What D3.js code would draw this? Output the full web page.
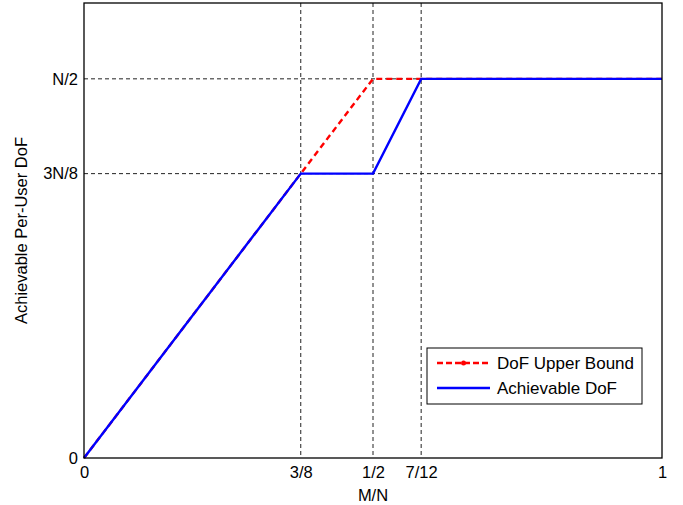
<!DOCTYPE html>
<html><head><meta charset="utf-8">
<script src="https://cdn.jsdelivr.net/npm/d3@7"></script>
<style>body{margin:0;background:#fff}svg{display:block}text{font-family:"Liberation Sans",Arial,sans-serif}</style>
</head><body><svg id="c" width="683" height="505"></svg>
<script>
const xTickValues=[0,3/8,1/2,7/12,1];
const xTickLabels=["0","3/8","1/2","7/12","1"];
const yTickValues=[0,3/8,1/2];
const yTickLabels=["0","3N/8","N/2"];
const upperX=[0,3/8,1/2,1];
const upperY=[0,3/8,1/2,1/2];
const achX=[0,3/8,1/2,7/12,1];
const achY=[0,3/8,3/8,1/2,1/2];
const seriesNames=["DoF Upper Bound","Achievable DoF"];

const svg=d3.select("#c");
const L=84,R=662,T=3,B=458;
const x=d3.scaleLinear().domain([0,1]).range([L,R]);
const y=d3.scaleLinear().domain([0,0.6]).range([B,T]);
const fs="16.5px";

// grid
const g=svg.append("g");
xTickValues.forEach(v=>{
  if(v>0&&v<1) g.append("line").attr("x1",x(v)).attr("x2",x(v)).attr("y1",T).attr("y2",B)
    .attr("stroke","#222").attr("stroke-width",1).attr("stroke-dasharray","4,3");
});
yTickValues.forEach(v=>{
  if(v>0) g.append("line").attr("x1",L).attr("x2",R).attr("y1",y(v)).attr("y2",y(v))
    .attr("stroke","#222").attr("stroke-width",1).attr("stroke-dasharray","4,3");
});

// axes
const xAxis=d3.axisBottom(x).tickValues(xTickValues).tickFormat((d,i)=>xTickLabels[i]).tickSize(0).tickPadding(8);
const ax=svg.append("g").attr("transform",`translate(0,${B})`).call(xAxis);
ax.select(".domain").remove();
ax.selectAll("text").attr("font-size",fs).attr("fill","#000").style("font-family","Liberation Sans,Arial");
const yAxis=d3.axisLeft(y).tickValues(yTickValues).tickFormat((d,i)=>yTickLabels[i]).tickSize(0).tickPadding(6);
const ay=svg.append("g").attr("transform",`translate(${L},0)`).call(yAxis);
ay.select(".domain").remove();
ay.selectAll("text").attr("font-size",fs).attr("fill","#000").style("font-family","Liberation Sans,Arial");

// lines
const line=d3.line().x(d=>x(d[0])).y(d=>y(d[1]));
svg.append("path").datum(upperX.map((v,i)=>[v,upperY[i]])).attr("d",line)
  .attr("fill","none").attr("stroke","#ff0000").attr("stroke-width",2.4).attr("stroke-dasharray","6,4");
svg.append("path").datum(achX.map((v,i)=>[v,achY[i]])).attr("d",line)
  .attr("fill","none").attr("stroke","#0000ff").attr("stroke-width",2.4);

// box
svg.append("rect").attr("x",L).attr("y",T).attr("width",R-L).attr("height",B-T)
  .attr("fill","none").attr("stroke","#000").attr("stroke-width",1.3);

// axis labels
svg.append("text").attr("x",(L+R)/2).attr("y",501).attr("text-anchor","middle").attr("font-size",fs).text("M/N");
svg.append("text").attr("transform",`translate(27,${(T+B)/2}) rotate(-90)`).attr("text-anchor","middle").attr("font-size",fs).text("Achievable Per-User DoF");

// legend
const lg=svg.append("g");
lg.append("rect").attr("x",427).attr("y",348).attr("width",215).attr("height",56).attr("fill","#fff").attr("stroke","#000").attr("stroke-width",1);
const rows=[363,388];
lg.append("line").attr("x1",437).attr("x2",490).attr("y1",rows[0]).attr("y2",rows[0]).attr("stroke","#ff0000").attr("stroke-width",2.4).attr("stroke-dasharray","6,3");
lg.append("circle").attr("cx",463.5).attr("cy",rows[0]).attr("r",2.5).attr("fill","#ff0000");
lg.append("line").attr("x1",437).attr("x2",490).attr("y1",rows[1]).attr("y2",rows[1]).attr("stroke","#0000ff").attr("stroke-width",2.4);
seriesNames.forEach((n,i)=>{
  lg.append("text").attr("x",497).attr("y",rows[i]).attr("dy","0.35em").attr("font-size","17px").text(n);
});
</script></body></html>
